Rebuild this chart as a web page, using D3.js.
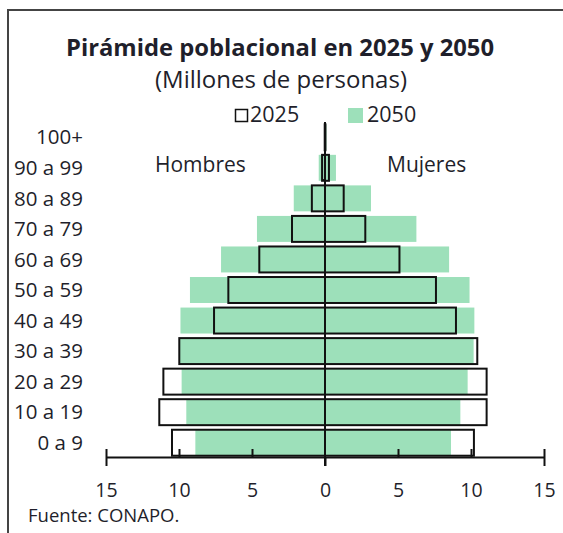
<!DOCTYPE html>
<html>
<head>
<meta charset="utf-8">
<script src="https://cdn.jsdelivr.net/npm/d3@7"></script>
<style>
  body { margin: 0; background: #fff; }
  text { font-family: "Open Sans", "Noto Sans", sans-serif; fill: #1f1f2b; }
</style>
</head>
<body>
<div id="chart"></div>
<script>
// age groups, top to bottom
var ages = ["100+", "90 a 99", "80 a 89", "70 a 79", "60 a 69", "50 a 59",
            "40 a 49", "30 a 39", "20 a 29", "10 a 19", "0 a 9"];
// millions of people
var hombres2025 = [0.02, 0.2, 0.9, 2.26, 4.5, 6.62, 7.6, 9.98, 11.07, 11.35, 10.48];
var hombres2050 = [0.05, 0.43, 2.14, 4.66, 7.12, 9.25, 9.9, 10.0, 9.82, 9.5, 8.88];
var mujeres2025 = [0.03, 0.27, 1.28, 2.76, 5.1, 7.6, 8.97, 10.43, 11.07, 11.07, 10.2];
var mujeres2050 = [0.1, 0.75, 3.15, 6.26, 8.5, 9.9, 10.23, 10.18, 9.77, 9.27, 8.63];
var ticks = [-15, -10, -5, 0, 5, 10, 15];

var width = 563, height = 533;
var green = "#9de0ba";

var svg = d3.select("#chart").append("svg")
  .attr("width", width)
  .attr("height", height);

// frame
svg.append("rect")
  .attr("x", 8).attr("y", 10)
  .attr("width", 570).attr("height", 540)
  .attr("fill", "none")
  .attr("stroke", "#444")
  .attr("stroke-width", 2);

svg.append("text")
  .attr("x", 280).attr("y", 56)
  .attr("text-anchor", "middle")
  .style("font-size", "23.8px")
  .style("font-weight", "bold")
  .text("Pirámide poblacional en 2025 y 2050");

svg.append("text")
  .attr("x", 281).attr("y", 88)
  .attr("text-anchor", "middle")
  .style("font-size", "24px")
  .text("(Millones de personas)");

var x = d3.scaleLinear().domain([-15, 15]).range([106, 544]);
var y = d3.scaleBand().domain(ages).range([122, 458]).paddingInner(0.15).paddingOuter(0.075);

var rows = ages.map(function (a, i) {
  return { age: a, h25: hombres2025[i], h50: hombres2050[i], m25: mujeres2025[i], m50: mujeres2050[i] };
});

// 2050 filled bars
var g50 = svg.append("g");
g50.selectAll(".h50").data(rows).enter().append("rect")
  .attr("x", function (d) { return x(-d.h50); })
  .attr("y", function (d) { return y(d.age); })
  .attr("width", function (d) { return x(0) - x(-d.h50); })
  .attr("height", y.bandwidth())
  .attr("fill", green);
g50.selectAll(".m50").data(rows).enter().append("rect")
  .attr("x", x(0))
  .attr("y", function (d) { return y(d.age); })
  .attr("width", function (d) { return x(d.m50) - x(0); })
  .attr("height", y.bandwidth())
  .attr("fill", green);

// 2025 outlined bars
var g25 = svg.append("g");
g25.selectAll(".h25").data(rows).enter().append("rect")
  .attr("x", function (d) { return x(-d.h25); })
  .attr("y", function (d) { return y(d.age); })
  .attr("width", function (d) { return x(0) - x(-d.h25); })
  .attr("height", y.bandwidth())
  .attr("fill", "none")
  .attr("stroke", "#111")
  .attr("stroke-width", 2);
g25.selectAll(".m25").data(rows).enter().append("rect")
  .attr("x", x(0))
  .attr("y", function (d) { return y(d.age); })
  .attr("width", function (d) { return x(d.m25) - x(0); })
  .attr("height", y.bandwidth())
  .attr("fill", "none")
  .attr("stroke", "#111")
  .attr("stroke-width", 2);

// age labels
svg.selectAll(".age").data(ages).enter().append("text")
  .attr("x", 83)
  .attr("y", function (d) { return y(d) + y.bandwidth() / 2; })
  .attr("dy", "0.35em")
  .attr("text-anchor", "end")
  .style("font-size", "20.5px")
  .text(function (d) { return d; });

// x axis
var axisY = 457;
var axis = svg.append("g")
  .attr("transform", "translate(0," + axisY + ")")
  .call(d3.axisBottom(x).tickValues(ticks).tickSize(-8).tickSizeOuter(0)
    .tickFormat(function (d) { return Math.abs(d); }));
axis.select(".domain").attr("stroke", "#111").attr("stroke-width", 2);
axis.selectAll(".tick line")
  .attr("stroke", "#111")
  .attr("stroke-width", 2)
  .attr("y2", function (d) { return (d === 0) ? 0 : -8; })
  .attr("y1", function (d) { return (Math.abs(d) === 15 || d === 0) ? 9 : 0; });
axis.selectAll(".tick text")
  .attr("y", 40)
  .attr("dy", 0)
  .style("font-size", "19.5px")
  .style("font-family", "'Open Sans', 'Noto Sans', sans-serif")
  .attr("fill", "#1f1f2b");

// centre line
svg.append("line")
  .attr("x1", x(0)).attr("x2", x(0))
  .attr("y1", 122).attr("y2", axisY + 9)
  .attr("stroke", "#111")
  .attr("stroke-width", 2);

// legend
var leg = svg.append("g");
leg.append("rect").attr("x", 235.5).attr("y", 109.5).attr("width", 12).attr("height", 12)
  .attr("fill", "none").attr("stroke", "#111").attr("stroke-width", 1.5);
leg.append("text").attr("x", 250).attr("y", 122).style("font-size", "21.5px").text("2025");
leg.append("rect").attr("x", 348).attr("y", 108).attr("width", 15).attr("height", 15)
  .attr("fill", green);
leg.append("text").attr("x", 367).attr("y", 122).style("font-size", "21.5px").text("2050");

svg.append("text").attr("x", 155).attr("y", 172).style("font-size", "21px").text("Hombres");
svg.append("text").attr("x", 387).attr("y", 172).style("font-size", "21px").text("Mujeres");

svg.append("text").attr("x", 28).attr("y", 522).style("font-size", "18.5px").text("Fuente: CONAPO.");
</script>
</body>
</html>
